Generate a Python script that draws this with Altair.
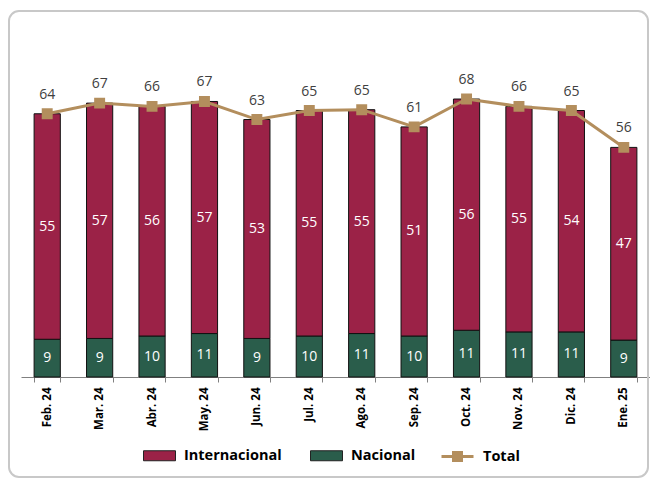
import altair as alt
import pandas as pd

months = ["Feb. 24", "Mar. 24", "Abr. 24", "May. 24", "Jun. 24", "Jul. 24",
          "Ago. 24", "Sep. 24", "Oct. 24", "Nov. 24", "Dic. 24", "Ene. 25"]
internacional = [55.0, 57.4, 56.0, 56.6, 53.4, 55.0, 54.6, 51.0, 56.4, 55.0, 54.0, 47.0]
nacional = [9.2, 9.4, 10.0, 10.6, 9.4, 10.0, 10.6, 10.0, 11.4, 11.0, 11.0, 9.0]
total = [64.2, 66.8, 66.0, 67.2, 62.8, 65.0, 65.2, 61.0, 67.8, 66.0, 65.0, 56.0]

RED = "#9B2247"
GREEN = "#2A5D4B"
GOLD = "#B38E5D"
FONT = "Open Sans"

rows = []
for i, m in enumerate(months):
    rows.append({"mes": m, "serie": "Nacional", "valor": nacional[i], "orden": 0})
    rows.append({"mes": m, "serie": "Internacional", "valor": internacional[i], "orden": 1})
bars_df = pd.DataFrame(rows)
tot_df = pd.DataFrame({"mes": months, "total": total, "serie": "Total"})
frame_df = pd.DataFrame({"k": [0]})

x_enc = alt.X(
    "mes:N", sort=months,
    scale=alt.Scale(paddingInner=0.5, paddingOuter=0.25),
    axis=alt.Axis(title=None, labelAngle=-90, labelFont=FONT, labelFontWeight="bold",
                  labelFontSize=11.5, labelColor="#000", tickBand="extent",
                  domainColor="#808080", tickColor="#808080", tickSize=5,
                  labelPadding=5, grid=False),
)
y_scale = alt.Scale(domain=[0, 80])

bar_legend = alt.Legend(
    title=None, orient="none", legendX=122, legendY=396, direction="horizontal",
    labelFont=FONT, labelFontSize=14.5, labelFontWeight="bold", labelColor="#000",
    symbolSize=400, columnPadding=26, labelOffset=20, padding=0,
    symbolType="M-1,-0.5H2.2V0.5H-1Z", symbolStrokeColor="#222222",
    symbolStrokeWidth=1, symbolOpacity=1,
)
line_legend = alt.Legend(
    title=None, orient="none", legendX=419, legendY=396, direction="horizontal",
    labelFont=FONT, labelFontSize=14.5, labelFontWeight="bold", labelColor="#000",
    symbolSize=400, labelOffset=20, padding=0,
    symbolType="M-1,0H2.2M0.2,-0.4H1V0.4H0.2Z", symbolFillColor=GOLD,
    symbolStrokeWidth=3, symbolOpacity=1,
)

frame = alt.Chart(frame_df).mark_rect(
    fill=None, stroke="#c8c8c8", strokeWidth=2, cornerRadius=10
).encode(x=alt.value(-12), x2=alt.value(627), y=alt.value(-38), y2=alt.value(428))

bars = alt.Chart(bars_df).mark_bar(stroke="#111111", strokeWidth=1).encode(
    x=x_enc,
    y=alt.Y("valor:Q", stack="zero", scale=y_scale, axis=None),
    color=alt.Color("serie:N", scale=alt.Scale(domain=["Internacional", "Nacional"], range=[RED, GREEN]),
                    legend=bar_legend),
    order=alt.Order("orden:Q"),
)

bar_text = alt.Chart(bars_df).transform_stack(
    stack="valor", groupby=["mes"], sort=[alt.SortField("orden")], as_=["v0", "v1"]
).transform_calculate(
    mid="(datum.v0 + datum.v1) / 2"
).mark_text(color="white", fontSize=14, font=FONT, baseline="middle").encode(
    x=x_enc,
    y=alt.Y("mid:Q", scale=y_scale, axis=None),
    text=alt.Text("valor:Q", format=".0f"),
)

line = alt.Chart(tot_df).mark_line(
    strokeWidth=3,
    point=alt.OverlayMarkDef(shape="square", size=80, filled=True, fill=GOLD, opacity=1),
).encode(
    x=x_enc,
    y=alt.Y("total:Q", scale=y_scale, axis=None),
    stroke=alt.Stroke("serie:N", scale=alt.Scale(domain=["Total"], range=[GOLD]), legend=line_legend),
)

tot_text = alt.Chart(tot_df).mark_text(
    color="#404040", fontSize=14, font=FONT, baseline="alphabetic", dy=-15
).encode(
    x=x_enc,
    y=alt.Y("total:Q", scale=y_scale, axis=None),
    text=alt.Text("total:Q", format=".0f"),
)

chart = alt.layer(frame, bars, bar_text, line, tot_text).properties(
    width=629, height=328,
    background="white",
    autosize=alt.AutoSizeParams(type="none"),
    padding={"left": 13, "top": 41, "right": 0, "bottom": 101},
).resolve_scale(color="independent", stroke="independent").configure_view(stroke=None)

chart.save("out.html", embed_options={"renderer": "svg", "actions": False})
